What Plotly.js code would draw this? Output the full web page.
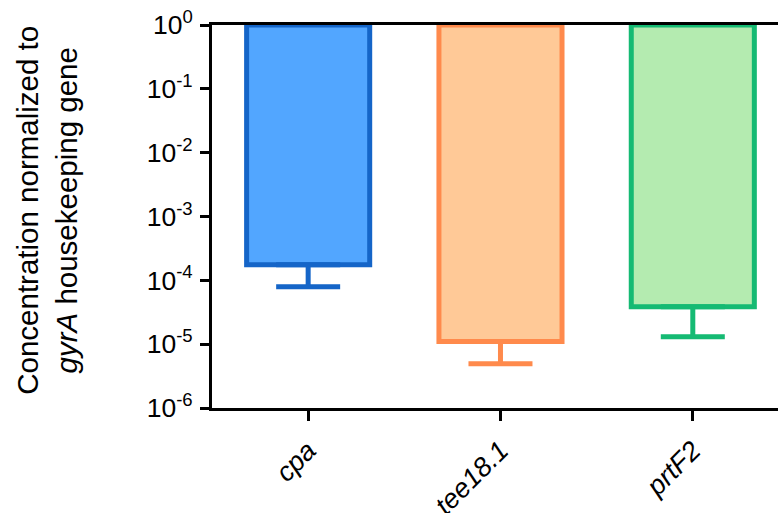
<!DOCTYPE html>
<html>
<head>
<meta charset="utf-8">
<script src="https://cdn.plot.ly/plotly-3.0.1.min.js"></script>
<style>html,body{margin:0;padding:0;background:#fff;}#chart{width:778px;height:513px;}</style>
</head>
<body>
<div id="chart"></div>
<script>
const genes = ['cpa', 'tee18.1', 'prtF2'];
const meanValues = [1.75e-4, 1.10e-5, 3.85e-5];
const lowerErrorEnds = [7.96e-5, 4.94e-6, 1.31e-5];
const fillColors = ['#52A6FF', '#FFC997', '#B4EBB0'];
const edgeColors = ['#1565C8', '#FF8A4C', '#15BA73'];
const yTickVals = [1e-6, 1e-5, 1e-4, 1e-3, 1e-2, 1e-1, 1];
const yTickText = ['10<sup>-6</sup>', '10<sup>-5</sup>', '10<sup>-4</sup>', '10<sup>-3</sup>', '10<sup>-2</sup>', '10<sup>-1</sup>', '10<sup>0</sup>'];
const topBase = 1;

const FONT = 'Liberation Sans, Arial, sans-serif';

const traces = genes.map((g, i) => ({
  type: 'bar',
  x: [g],
  base: [topBase],
  y: [meanValues[i] - topBase],
  width: 0.64,
  marker: { color: fillColors[i], line: { color: edgeColors[i], width: 5 } },
  error_y: {
    type: 'data', symmetric: false,
    array: [0],
    arrayminus: [meanValues[i] - lowerErrorEnds[i]],
    color: edgeColors[i], thickness: 5, width: 32
  },
  hoverinfo: 'skip',
  showlegend: false
}));

const layout = {
  width: 778, height: 513,
  margin: { l: 212, r: 0, t: 25, b: 105, pad: 0 },
  paper_bgcolor: '#fff', plot_bgcolor: '#fff',
  barmode: 'overlay',
  font: { family: FONT, color: '#000', size: 26 },
  xaxis: {
    type: 'category',
    categoryorder: 'array', categoryarray: genes,
    range: [-0.5, 2.443],
    tickmode: 'array', tickvals: genes,
    ticktext: genes.map(g => '<i>' + g + '</i>'),
    tickangle: -45,
    tickfont: { family: FONT, size: 27, color: '#000' },
    ticklabelstandoff: 3,
    showline: true, linecolor: '#000', linewidth: 3, mirror: true,
    ticks: 'outside', ticklen: 10, tickwidth: 3, tickcolor: '#000',
    showgrid: false, zeroline: false, fixedrange: true
  },
  yaxis: {
    type: 'log',
    range: [-6, 0],
    tickmode: 'array', tickvals: yTickVals, ticktext: yTickText,
    tickfont: { family: FONT, size: 26.5, color: '#000' },
    ticklabelstandoff: 2,
    showline: true, linecolor: '#000', linewidth: 3,
    ticks: 'outside', ticklen: 9, tickwidth: 3, tickcolor: '#000',
    showgrid: false, zeroline: false, fixedrange: true
  },
  annotations: [{
    xref: 'paper', yref: 'paper',
    x: (47 - 212) / 566, y: 0.515,
    xanchor: 'center', yanchor: 'middle',
    textangle: -90, showarrow: false,
    text: 'Concentration normalized to<br><i>gyrA</i> housekeeping gene',
    font: { family: FONT, size: 29.5, color: '#000' }
  }]
};

Plotly.newPlot('chart', traces, layout, { displayModeBar: false, staticPlot: true });
</script>
</body>
</html>
